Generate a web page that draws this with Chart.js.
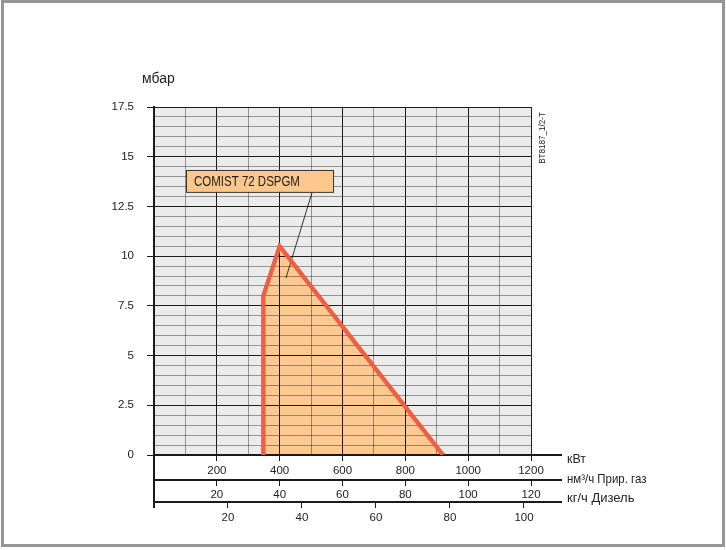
<!DOCTYPE html>
<html>
<head>
<meta charset="utf-8">
<script src="https://cdn.jsdelivr.net/npm/chart.js@4.4.1/dist/chart.umd.min.js"></script>
<style>
	html, body { margin: 0; padding: 0; background: #fff; }
	#frame { position: absolute; left: 1px; top: 0; width: 718px; height: 541px; border: 3px solid #959595; }
	#wrap { position: absolute; left: 0; top: 0; width: 726px; height: 550px; }
</style>
</head>
<body>
<div id="frame"></div>
<div id="wrap"><canvas id="grafica"></canvas></div>
<script>
	const rangoKw = [348, 348, 400, 920];
	const rangoMbar = [0, 8, 10.5, 0];
	const modelo = 'COMIST 72 DSPGM';
	const flechaKw = [503, 420];
	const flechaMbar = [13.2, 8.9];
	const cajaKw = [102, 570];
	const cajaMbar = [14.33, 13.23];
	const kwMax = 1200;
	const gasMax = 120;
	const dieselMax = 101.9;
	const mbarMax = 17.5;
	const codigo = 'BT8187_1/2-T';

	const FUENTE = '"Liberation Sans", Arial, sans-serif';
	const OSCURO = 'rgba(0,0,0,0.88)';
	const GRIS = 'rgba(0,0,0,0.37)';

	const multiplo = (v, m) => Math.abs(v / m - Math.round(v / m)) < 1e-6;

	// texto estrechado horizontalmente (la fuente original es condensada)
	function texto(ctx, str, x, y, escala) {
		ctx.save();
		ctx.translate(x, y);
		ctx.scale(escala, 1);
		ctx.fillText(str, 0, 0);
		ctx.restore();
	}

	const extras = {
		id: 'extras',
		beforeDraw(chart) {
			const { ctx, chartArea: a } = chart;
			ctx.save();
			ctx.fillStyle = '#ebebec';
			ctx.fillRect(a.left, a.top, a.right - a.left, a.bottom - a.top);
			ctx.restore();
		},
		afterDraw(chart) {
			const { ctx, chartArea: a, scales } = chart;

			// contorno rojo por encima de la cuadricula
			const meta = chart.getDatasetMeta(0);
			ctx.save();
			ctx.beginPath();
			ctx.rect(a.left, a.top, a.right - a.left, a.bottom - a.top);
			ctx.clip();
			meta.controller.draw();
			ctx.restore();

			ctx.save();
			// prolongacion de los ejes inferiores
			ctx.strokeStyle = '#1a1a1a';
			ctx.lineWidth = 2;
			['x', 'x2', 'x3'].forEach((id) => {
				const y = scales[id].top;
				ctx.beginPath();
				ctx.moveTo(a.right - 1, y);
				ctx.lineTo(562, y);
				ctx.stroke();
			});
			ctx.beginPath();
			ctx.moveTo(a.left, a.bottom);
			ctx.lineTo(a.left, scales.x3.top + 6);
			ctx.stroke();

			// titulos de ejes
			ctx.fillStyle = '#222';
			ctx.textBaseline = 'middle';
			ctx.textAlign = 'left';
			ctx.font = '13px ' + FUENTE;
			texto(ctx, 'кВт', 567, scales.x.top + 4, 0.95);
			texto(ctx, 'нм³/ч Прир. газ', 567, scales.x2.top - 1, 0.88);
			texto(ctx, 'кг/ч Дизель', 567, scales.x3.top - 4, 1.0);
			ctx.font = '14px ' + FUENTE;
			ctx.fillText('мбар', 142, 79);

			// codigo vertical
			ctx.save();
			ctx.translate(542, 138);
			ctx.rotate(-Math.PI / 2);
			ctx.textAlign = 'center';
			ctx.font = '9.5px ' + FUENTE;
			ctx.scale(0.85, 1);
			ctx.fillText(codigo, 0, 0);
			ctx.restore();

			// caja del modelo
			const x0 = scales.x.getPixelForValue(cajaKw[0]);
			const x1 = scales.x.getPixelForValue(cajaKw[1]);
			const y0 = scales.y.getPixelForValue(cajaMbar[0]);
			const y1 = scales.y.getPixelForValue(cajaMbar[1]);
			ctx.fillStyle = '#fdc68b';
			ctx.fillRect(x0, y0, x1 - x0, y1 - y0);
			ctx.strokeStyle = '#333';
			ctx.lineWidth = 1;
			ctx.strokeRect(Math.round(x0) + 0.5, Math.round(y0) + 0.5, x1 - x0, y1 - y0);
			ctx.fillStyle = '#222';
			ctx.font = '14px ' + FUENTE;
			ctx.textAlign = 'left';
			texto(ctx, modelo, x0 + 8, (y0 + y1) / 2 + 1, 0.82);
			ctx.restore();
		},
	};

	const fuenteTicks = { family: FUENTE, size: 11.5 };

	new Chart(document.getElementById('grafica'), {
		type: 'scatter',
		data: {
			datasets: [
				{
					data: rangoKw.map((v, i) => ({ x: v, y: rangoMbar[i] })),
					showLine: true,
					fill: 'origin',
					backgroundColor: '#fec990',
					borderColor: '#ee5f44',
					borderWidth: 4,
					borderJoinStyle: 'miter',
					pointRadius: 0,
					order: 2,
					xAxisID: 'x',
				},
				{
					data: flechaKw.map((v, i) => ({ x: v, y: flechaMbar[i] })),
					showLine: true,
					borderColor: '#333',
					borderWidth: 1,
					pointRadius: 0,
					order: 1,
					xAxisID: 'x',
				},
			],
		},
		plugins: [extras],
		options: {
			responsive: true,
			maintainAspectRatio: false,
			animation: false,
			layout: { padding: { left: 0, top: 107, right: 195, bottom: 26 } },
			plugins: { legend: { display: false }, tooltip: { enabled: false } },
			scales: {
				x: {
					type: 'linear',
					position: 'bottom',
					min: 0,
					max: kwMax,
					afterFit: (s) => { s.height = 25; },
					ticks: {
						stepSize: 100,
						autoSkip: false,
						maxRotation: 0,
						padding: 3,
						color: '#222',
						font: fuenteTicks,
						callback: (v) => (v > 0 && multiplo(v, 200) ? v : ''),
					},
					grid: {
						z: 1,
						tickLength: 6,
						color: (c) => (c.tick && multiplo(c.tick.value, 200) ? OSCURO : GRIS),
						tickColor: (c) => (c.tick && multiplo(c.tick.value, 200) ? '#1a1a1a' : 'rgba(0,0,0,0)'),
					},
					border: { color: '#1a1a1a', width: 2, z: 2 },
				},
				x2: {
					type: 'linear',
					position: 'bottom',
					min: 0,
					max: gasMax,
					afterFit: (s) => { s.height = 22; },
					ticks: {
						stepSize: 20,
						autoSkip: false,
						maxRotation: 0,
						padding: 2,
						color: '#222',
						font: fuenteTicks,
						callback: (v) => (v > 0 ? v : ''),
					},
					grid: { drawOnChartArea: false, tickLength: 6, tickColor: '#1a1a1a' },
					border: { color: '#1a1a1a', width: 2 },
				},
				x3: {
					type: 'linear',
					position: 'bottom',
					min: 0,
					max: dieselMax,
					afterFit: (s) => { s.height = 22; },
					ticks: {
						stepSize: 20,
						includeBounds: false,
						autoSkip: false,
						maxRotation: 0,
						padding: 3,
						color: '#222',
						font: fuenteTicks,
						callback: (v) => (v > 0 ? v : ''),
					},
					grid: { drawOnChartArea: false, tickLength: 6, tickColor: '#1a1a1a' },
					border: { color: '#1a1a1a', width: 2 },
				},
				y: {
					min: 0,
					max: mbarMax,
					afterFit: (s) => { s.width = 154; },
					ticks: {
						stepSize: 0.5,
						autoSkip: false,
						padding: 13,
						color: '#222',
						font: fuenteTicks,
						callback: (v) => (multiplo(v, 2.5) ? v : ''),
					},
					grid: {
						z: 1,
						tickLength: 7,
						color: (c) => (c.tick && multiplo(c.tick.value, 2.5) ? OSCURO : GRIS),
						tickColor: (c) => (c.tick && multiplo(c.tick.value, 2.5) ? '#1a1a1a' : 'rgba(0,0,0,0)'),
					},
					border: { color: '#1a1a1a', width: 2, z: 2 },
				},
			},
		},
	});
</script>
</body>
</html>
